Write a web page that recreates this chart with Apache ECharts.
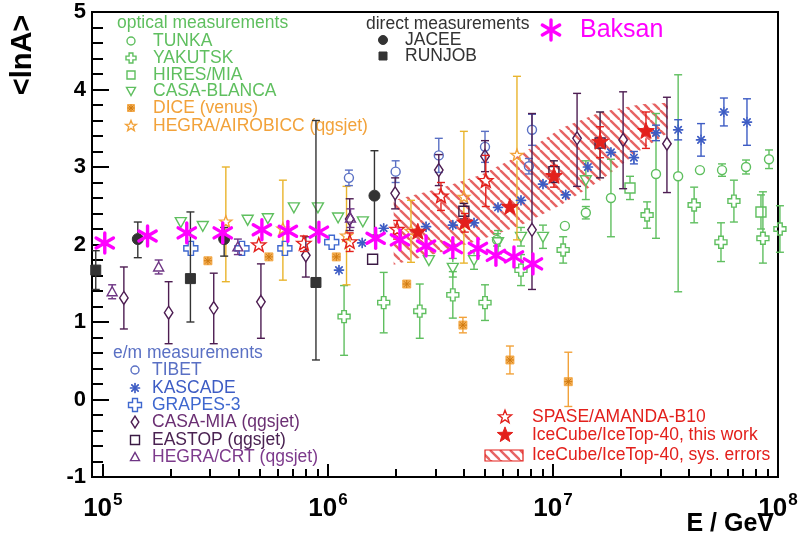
<!DOCTYPE html>
<html>
<head>
<meta charset="utf-8">
<title>Mean logarithmic mass vs energy</title>
<script src="https://cdn.jsdelivr.net/npm/echarts@6.0.0/dist/echarts.min.js"></script>
<style>
  html, body { margin: 0; padding: 0; background: #fff; }
  #chart { width: 804px; height: 544px; }
</style>
</head>
<body>
<div id="chart"></div>
<script>
// Points: [E / GeV, <lnA>, lower error, upper error]
const tunka = [
  [5.64e6, 2.06, 0.08, 0.08], [1.13e7, 2.24, 0.06, 0.06], [1.40e7, 2.41, 0.08, 0.08],
  [1.81e7, 2.60, 0.50, 0.50], [2.87e7, 2.91, 0.83, 0.78], [3.60e7, 2.88, 1.49, 1.31],
  [4.50e7, 2.96, 0.07, 0.07], [5.64e7, 2.96, 0.08, 0.08], [7.21e7, 3.00, 0.09, 0.09],
  [9.12e7, 3.10, 0.12, 0.12]
];
const yakutsk = [
  [1.18e6, 1.07, 0.50, 0.40], [1.77e6, 1.25, 0.39, 0.39], [2.56e6, 1.14, 0.35, 0.35],
  [3.59e6, 1.35, 0.30, 0.30], [4.99e6, 1.25, 0.23, 0.23], [7.21e6, 1.67, 0.20, 0.20],
  [1.11e7, 1.93, 0.17, 0.17], [2.62e7, 2.38, 0.17, 0.17], [4.24e7, 2.51, 0.23, 0.23],
  [5.58e7, 2.03, 0.25, 0.25], [6.37e7, 2.56, 0.27, 0.27], [8.57e7, 2.08, 0.32, 0.60],
  [1.02e8, 2.20, 0.30, 0.30]
];
const hiresMia = [[2.20e7, 2.73, 0.15, 0.15], [8.40e7, 2.42, 0.22, 0.22]];
const casaBlanca = [
  [2.22e5, 2.29], [2.78e5, 2.24], [4.40e5, 2.32], [5.41e5, 2.34], [7.06e5, 2.48],
  [9.03e5, 2.48], [1.11e6, 2.35], [1.43e6, 2.30],
  [2.81e6, 1.80, 0.07, 0.07], [3.59e6, 1.70, 0.12, 0.12], [4.46e6, 1.80, 0.12, 0.12],
  [5.70e6, 2.03, 0.15, 0.15], [7.21e6, 2.10, 0.12, 0.12], [9.03e6, 2.10, 0.15, 0.15],
  [1.40e7, 2.83, 0.25, 0.25]
];
const dice = [
  [2.93e5, 1.79], [5.47e5, 1.84], [1.09e6, 1.84], [2.24e6, 1.49],
  [3.98e6, 0.96, 0.10, 0.10], [6.44e6, 0.51, 0.18, 0.18], [1.17e7, 0.23, 0.32, 0.38]
];
const hegraAirobicc = [
  [3.52e5, 2.29, 0.77, 0.71], [6.31e5, 2.20, 0.66, 0.63], [1.21e6, 2.11, 0.63, 0.64],
  [2.34e6, 2.17, 0.40, 0.40], [4.02e6, 2.61, 0.85, 0.85], [6.92e6, 3.15, 1.09, 1.02]
];
const tibet = [
  [1.24e6, 2.86, 0.10, 0.10], [2.00e6, 2.94, 0.14, 0.14], [3.11e6, 3.15, 0.22, 0.22],
  [4.99e6, 3.26, 0.20, 0.20], [7.82e6, 3.01, 0.10, 0.10], [8.07e6, 3.48, 0.20, 0.20]
];
const kascade = [
  [1.12e6, 1.67, 0.03, 0.03], [1.42e6, 2.02, 0.03, 0.03], [1.77e6, 2.21, 0.03, 0.03],
  [2.73e6, 2.23, 0.03, 0.03], [3.59e6, 2.25, 0.03, 0.03], [4.46e6, 2.28, 0.03, 0.03],
  [5.70e6, 2.48, 0.04, 0.04], [7.21e6, 2.57, 0.04, 0.04], [9.03e6, 2.78, 0.05, 0.05],
  [1.14e7, 2.64, 0.05, 0.05], [1.43e7, 3.00, 0.06, 0.06], [1.81e7, 3.19, 0.07, 0.07],
  [2.29e7, 3.12, 0.08, 0.08], [2.87e7, 3.44, 0.10, 0.10], [3.60e7, 3.48, 0.13, 0.13],
  [4.55e7, 3.35, 0.21, 0.21], [5.75e7, 3.71, 0.18, 0.18], [7.28e7, 3.58, 0.30, 0.30]
];
const grapes3 = [[2.46e5, 1.95, 0.04, 0.04], [4.15e5, 1.95, 0.04, 0.04], [6.44e5, 1.95, 0.04, 0.04], [1.04e6, 2.03, 0.04, 0.04]];
const casaMia = [
  [1.24e5, 1.31, 0.40, 0.40], [1.96e5, 1.12, 0.40, 0.40], [3.11e5, 1.18, 0.46, 0.45],
  [5.04e5, 1.26, 0.47, 0.49], [7.98e5, 1.86, 0.28, 0.24], [1.25e6, 2.33, 0.15, 0.26],
  [1.99e6, 2.66, 0.20, 0.20], [3.11e6, 2.96, 0.20, 0.20], [4.99e6, 3.14, 0.20, 0.20],
  [8.07e6, 2.19, 0.77, 1.50], [1.28e7, 3.37, 0.62, 0.58], [2.05e7, 3.35, 0.63, 0.62],
  [3.21e7, 3.30, 0.63, 0.60]
];
const eastop = [[1.58e6, 1.81], [4.02e6, 2.43, 0.10, 0.10], [1.01e7, 2.94, 0.14, 0.14], [1.62e7, 3.31, 0.45, 0.40]];
const hegraCrt = [[1.10e5, 1.39, 0.09, 0.09], [1.77e5, 1.71, 0.09, 0.09], [3.98e5, 1.97, 0.10, 0.10], [1.26e6, 2.34, 0.12, 0.12]];
const jacee = [[1.43e5, 2.07, 0.24, 0.22], [3.46e5, 2.07, 0.22, 0.15], [1.61e6, 2.63, 0.51, 0.58]];
const runjob = [[9.30e4, 1.67, 0.25, 0.25], [2.45e5, 1.56, 0.56, 0.86], [8.85e5, 1.51, 1.00, 2.09]];
const spaseAmanda = [
  [4.93e5, 1.99, 0.05, 0.05], [7.82e5, 2.01, 0.10, 0.10], [1.25e6, 2.03, 0.12, 0.12],
  [2.03e6, 2.19, 0.12, 0.12], [3.18e6, 2.62, 0.18, 0.18], [5.03e6, 2.82, 0.33, 0.33]
];
const icecube = [
  [2.51e6, 2.16, 0.08, 0.08], [4.06e6, 2.28, 0.12, 0.12], [6.44e6, 2.48, 0.10, 0.10],
  [1.01e7, 2.88, 0.14, 0.14], [1.62e7, 3.32, 0.20, 0.20], [2.59e7, 3.46, 0.22, 0.25]
];
// IceCube/IceTop-40 systematic band
const icecubeSysE = [1.96e6, 3.18e6, 4.79e6, 7.21e6, 1.086e7, 1.633e7, 2.46e7, 3.24e7];
const icecubeSysLow = [1.74, 1.90, 2.06, 2.25, 2.51, 2.83, 3.22, 3.44];
const icecubeSysHigh = [2.57, 2.73, 2.90, 3.16, 3.50, 3.71, 3.81, 3.83];
// Baksan
const baksanE = [1.02e5, 1.58e5, 2.36e5, 3.41e5, 5.09e5, 6.64e5, 9.12e5, 1.63e6, 2.09e6, 2.73e6, 3.59e6, 4.64e6, 5.58e6, 6.71e6, 8.15e6];
const baksanLnA = [2.02, 2.11, 2.15, 2.15, 2.19, 2.17, 2.16, 2.08, 2.06, 1.98, 1.96, 1.95, 1.86, 1.84, 1.75];

// Axes
const xRange = [8.95e4, 1.0e8];
const yRange = [-1, 5];
const xMajorTicks = [1e5, 1e6, 1e7, 1e8];
const xMinorTicks = [2e5, 3e5, 4e5, 5e5, 6e5, 7e5, 8e5, 9e5, 2e6, 3e6, 4e6, 5e6, 6e6, 7e6, 8e6, 9e6, 2e7, 3e7, 4e7, 5e7, 6e7, 7e7, 8e7, 9e7];

const FONT = '"Liberation Sans", Arial, Helvetica, sans-serif';
const LEGEND_FS = 17.5;
const GREEN = '#5fbf5f', ORANGE = '#f2a23a', AMBER = '#e9b42c';
const BLUE1 = '#5a70c4', BLUE2 = '#3d5cc4', BLUE3 = '#3f68cf';
const PURPLE1 = '#4d1d52', PURPLE2 = '#3b1a44', PURPLE3 = '#6e3584';
const GREY = '#333333', RED = '#e3201c', HATCH = 'rgba(226,72,72,0.85)', MAGENTA = '#ff00ff';

// Diagonal hatch used for the systematic band
function hatchPattern() {
  const p = 10;
  const cv = document.createElement('canvas');
  cv.width = p; cv.height = p;
  const ctx = cv.getContext('2d');
  ctx.strokeStyle = HATCH;
  ctx.lineWidth = 2.4;
  for (let k = -1; k <= 1; k++) {
    ctx.beginPath();
    ctx.moveTo(k * p, 0);
    ctx.lineTo(k * p + p, p);
    ctx.stroke();
  }
  return { image: cv, repeat: 'repeat' };
}
const hatch = hatchPattern();

// Marker glyphs as zrender elements
function marker(kind, x, y, color, s) {
  const open = { fill: 'none', stroke: color, lineWidth: 1.4 };
  const full = { fill: color, stroke: color, lineWidth: 1 };
  const starPts = (r) => {
    const pts = [];
    for (let i = 0; i < 10; i++) {
      const a = -Math.PI / 2 + i * Math.PI / 5;
      const rr = i % 2 ? r * 0.42 : r;
      pts.push([x + rr * Math.cos(a), y + rr * Math.sin(a)]);
    }
    return pts;
  };
  const rays = (n, r, w, c) => {
    const out = [];
    for (let i = 0; i < n; i++) {
      const a = Math.PI / 2 + i * Math.PI / n;
      out.push({ type: 'line', shape: { x1: x - r * Math.cos(a), y1: y - r * Math.sin(a), x2: x + r * Math.cos(a), y2: y + r * Math.sin(a) },
        style: { stroke: c, lineWidth: w, lineCap: 'round' } });
    }
    return out;
  };
  const a = s * 0.38;
  switch (kind) {
    case 'circle': return [{ type: 'circle', shape: { cx: x, cy: y, r: s }, style: open }];
    case 'dot': return [{ type: 'circle', shape: { cx: x, cy: y, r: s }, style: full }];
    case 'square': return [{ type: 'rect', shape: { x: x - s, y: y - s, width: 2 * s, height: 2 * s }, style: open }];
    case 'block': return [{ type: 'rect', shape: { x: x - s, y: y - s, width: 2 * s, height: 2 * s }, style: full }];
    case 'triDown': return [{ type: 'polygon', shape: { points: [[x - s, y - s * 0.8], [x + s, y - s * 0.8], [x, y + s]] }, style: open }];
    case 'triUp': return [{ type: 'polygon', shape: { points: [[x - s, y + s * 0.8], [x + s, y + s * 0.8], [x, y - s]] }, style: open }];
    case 'diamond': return [{ type: 'polygon', shape: { points: [[x, y - s * 1.3], [x + s * 0.85, y], [x, y + s * 1.3], [x - s * 0.85, y]] }, style: open }];
    case 'cross': return [{ type: 'polygon', shape: { points: [
      [x - a, y - s], [x + a, y - s], [x + a, y - a], [x + s, y - a], [x + s, y + a], [x + a, y + a],
      [x + a, y + s], [x - a, y + s], [x - a, y + a], [x - s, y + a], [x - s, y - a], [x - a, y - a]] }, style: open }];
    case 'star': return [{ type: 'polygon', shape: { points: starPts(s * 1.25) }, style: open }];
    case 'starFull': return [{ type: 'polygon', shape: { points: starPts(s * 1.25) }, style: full }];
    case 'snow': return rays(4, s, 1.7, color);
    case 'dice': return [{ type: 'rect', shape: { x: x - s, y: y - s, width: 2 * s, height: 2 * s }, style: { fill: color, stroke: color, lineWidth: 1, opacity: 0.85 } }]
      .concat(rays(4, s * 0.9, 1, '#d07a10'));
    case 'asterisk': return rays(3, s, 3.4, color);
  }
  return [];
}

// Data points with vertical error bars
function pointSeries(name, pts, kind, color, size, barColor, z) {
  return {
    type: 'custom', name: name, z: z,
    data: pts.map(p => {
      const dn = p[2] || 0, up = p[3] != null ? p[3] : dn;
      return [p[0], p[1], p[1] - dn, p[1] + up];
    }),
    encode: { x: 0, y: 1 },
    renderItem: function (params, api) {
      const c = api.coord([api.value(0), api.value(1)]);
      const lo = api.coord([api.value(0), api.value(2)]);
      const hi = api.coord([api.value(0), api.value(3)]);
      const gap = size * (kind === 'diamond' ? 1.3 : 1);
      const ls = { stroke: barColor || color, lineWidth: 1.4 };
      const kids = [];
      const cap = 4;
      if (c[1] - hi[1] > gap + 1) {
        kids.push({ type: 'line', shape: { x1: c[0], y1: hi[1], x2: c[0], y2: c[1] - gap }, style: ls });
        kids.push({ type: 'line', shape: { x1: c[0] - cap, y1: hi[1], x2: c[0] + cap, y2: hi[1] }, style: ls });
      }
      if (lo[1] - c[1] > gap + 1) {
        kids.push({ type: 'line', shape: { x1: c[0], y1: c[1] + gap, x2: c[0], y2: lo[1] }, style: ls });
        kids.push({ type: 'line', shape: { x1: c[0] - cap, y1: lo[1], x2: c[0] + cap, y2: lo[1] }, style: ls });
      }
      return { type: 'group', children: kids.concat(marker(kind, c[0], c[1], color, size)) };
    }
  };
}

const bandRows = icecubeSysE.map((e, i) => [e, icecubeSysLow[i], icecubeSysHigh[i]]);
const bandSeries = {
  type: 'custom', name: 'IceCube/IceTop-40, sys. errors', z: 1,
  data: bandRows,
  encode: { x: 0, y: [1, 2] },
  renderItem: function (params, api) {
    if (params.dataIndex !== 0) return null;
    const upper = bandRows.map(r => api.coord([r[0], r[2]]));
    const lower = bandRows.map(r => api.coord([r[0], r[1]])).reverse();
    return { type: 'polygon', shape: { points: upper.concat(lower) }, style: { fill: hatch, stroke: 'none' } };
  }
};

const series = [
  bandSeries,
  pointSeries('TUNKA', tunka, 'circle', GREEN, 4.5, GREEN, 2),
  pointSeries('YAKUTSK', yakutsk, 'cross', GREEN, 6, GREEN, 2),
  pointSeries('HIRES/MIA', hiresMia, 'square', GREEN, 5, GREEN, 2),
  pointSeries('CASA-BLANCA', casaBlanca, 'triDown', GREEN, 5.5, GREEN, 2),
  pointSeries('HEGRA/AIROBICC (qgsjet)', hegraAirobicc, 'star', ORANGE, 5, AMBER, 3),
  pointSeries('DICE (venus)', dice, 'dice', ORANGE, 4, ORANGE, 3),
  pointSeries('TIBET', tibet, 'circle', BLUE1, 4.5, BLUE1, 4),
  pointSeries('KASCADE', kascade, 'snow', BLUE2, 4.5, BLUE2, 4),
  pointSeries('GRAPES-3', grapes3, 'cross', BLUE3, 7, BLUE3, 4),
  pointSeries('CASA-MIA (qgsjet)', casaMia, 'diamond', PURPLE1, 5, PURPLE1, 5),
  pointSeries('EASTOP (qgsjet)', eastop, 'square', PURPLE2, 5, PURPLE2, 5),
  pointSeries('HEGRA/CRT (qgsjet)', hegraCrt, 'triUp', PURPLE3, 5, PURPLE3, 5),
  pointSeries('JACEE', jacee, 'dot', GREY, 5.5, GREY, 6),
  pointSeries('RUNJOB', runjob, 'block', GREY, 5, GREY, 6),
  pointSeries('SPASE/AMANDA-B10', spaseAmanda, 'star', RED, 6, RED, 7),
  pointSeries('IceCube/IceTop-40, this work', icecube, 'starFull', RED, 7, RED, 7),
  pointSeries('Baksan', baksanE.map((e, i) => [e, baksanLnA[i]]), 'asterisk', MAGENTA, 10, MAGENTA, 9)
];

// Legend blocks
function txt(x, y, text, color, font, align) {
  return { type: 'text', x: x, y: y,
    style: { text: text, fill: color, font: font || (LEGEND_FS + 'px ' + FONT), textAlign: align || 'left', textVerticalAlign: 'middle' } };
}
function entry(kind, mx, my, color, size, tx, text, tcolor, font) {
  return [{ type: 'group', children: marker(kind, mx, my, color, size) }, txt(tx, my, text, tcolor || color, font)];
}
const axisTitleY = txt(23, 55, '<lnA>', '#000', 'bold 29px ' + FONT, 'center');
axisTitleY.rotation = Math.PI / 2;
const axisTitleX = txt(774, 524, 'E / GeV', '#000', 'bold 25px ' + FONT, 'right');

const graphics = [].concat(
  [txt(117, 23, 'optical measurements', GREEN)],
  entry('circle', 131, 41, GREEN, 4, 153, 'TUNKA'),
  entry('cross', 131, 58, GREEN, 5, 153, 'YAKUTSK'),
  entry('square', 131, 75, GREEN, 4, 153, 'HIRES/MIA'),
  entry('triDown', 131, 91, GREEN, 4.5, 153, 'CASA-BLANCA'),
  entry('dice', 131, 108, ORANGE, 3.5, 153, 'DICE (venus)'),
  entry('star', 131, 126, ORANGE, 4.5, 153, 'HEGRA/AIROBICC (qgsjet)'),
  [txt(366, 24, 'direct measurements', GREY)],
  entry('dot', 383, 40, GREY, 4.5, 405, 'JACEE'),
  entry('block', 383, 56, GREY, 4, 405, 'RUNJOB'),
  entry('asterisk', 551, 30, MAGENTA, 10, 580, 'Baksan', MAGENTA, '25px ' + FONT),
  [txt(113, 353, 'e/m measurements', BLUE1)],
  entry('circle', 135, 370, BLUE1, 4, 152, 'TIBET'),
  entry('snow', 135, 388, BLUE2, 4.5, 152, 'KASCADE'),
  entry('cross', 135, 405, BLUE3, 6.5, 152, 'GRAPES-3'),
  entry('diamond', 135, 422, PURPLE1, 4.5, 152, 'CASA-MIA (qgsjet)', '#6b2f73'),
  entry('square', 135, 440, PURPLE2, 4.5, 152, 'EASTOP (qgsjet)', '#4a2252'),
  entry('triUp', 135, 457, PURPLE3, 4.5, 152, 'HEGRA/CRT (qgsjet)', '#7d3a8c'),
  entry('star', 505, 417, RED, 5.5, 532, 'SPASE/AMANDA-B10'),
  entry('starFull', 505, 435, RED, 6.5, 532, 'IceCube/IceTop-40, this work'),
  [{ type: 'rect', shape: { x: 485, y: 450, width: 38, height: 11 }, style: { fill: hatch, stroke: RED, lineWidth: 1.2 } },
   txt(532, 455, 'IceCube/IceTop-40, sys. errors', RED)],
  [axisTitleY, axisTitleX]
);

const chart = echarts.init(document.getElementById('chart'), null, { renderer: 'canvas' });
chart.setOption({
  animation: false,
  backgroundColor: '#ffffff',
  grid: { left: 92, top: 12, width: 686, height: 465, show: true, borderColor: '#000', borderWidth: 2, backgroundColor: 'transparent' },
  xAxis: [
    {
      type: 'log', logBase: 10, min: xRange[0], max: xRange[1], position: 'bottom',
      axisLine: { show: true, onZero: false, lineStyle: { color: '#000', width: 2 } },
      splitLine: { show: false },
      axisTick: { show: true, inside: true, length: 13, lineStyle: { color: '#000', width: 2 }, customValues: xMajorTicks },
      axisLabel: {
        show: true, margin: 19, customValues: xMajorTicks,
        formatter: v => '{b|10}{s|' + Math.round(Math.log10(v)) + '}',
        rich: {
          b: { fontFamily: FONT, fontWeight: 'bold', fontSize: 26, color: '#000', verticalAlign: 'bottom', lineHeight: 26 },
          s: { fontFamily: FONT, fontWeight: 'bold', fontSize: 17, color: '#000', verticalAlign: 'bottom', lineHeight: 17, padding: [0, 0, 13, 1] }
        }
      }
    },
    {
      type: 'log', logBase: 10, min: xRange[0], max: xRange[1], position: 'bottom', gridIndex: 0,
      axisLine: { show: false, onZero: false }, splitLine: { show: false }, axisLabel: { show: false },
      axisTick: { show: true, inside: true, length: 8, lineStyle: { color: '#000', width: 2 }, customValues: xMinorTicks }
    }
  ],
  yAxis: {
    type: 'value', min: yRange[0], max: yRange[1], interval: 1,
    axisLine: { show: true, onZero: false, lineStyle: { color: '#000', width: 2 } },
    splitLine: { show: false },
    axisTick: { show: true, inside: true, length: 17, lineStyle: { color: '#000', width: 2 } },
    minorTick: { show: true, splitNumber: 5, length: 11, lineStyle: { color: '#000', width: 2 } },
    axisLabel: { color: '#000', fontFamily: FONT, fontWeight: 'bold', fontSize: 22, margin: 6 }
  },
  series: series,
  graphic: { elements: graphics }
});
</script>
</body>
</html>
